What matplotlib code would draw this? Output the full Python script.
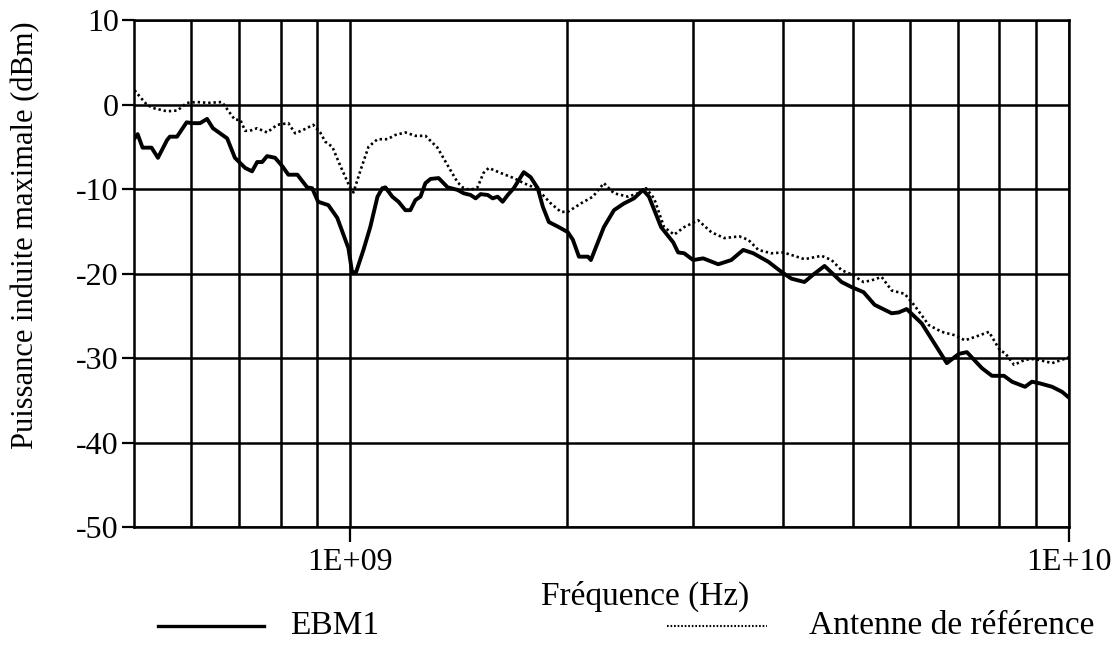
import numpy as np
import matplotlib
matplotlib.use("Agg")
import matplotlib.pyplot as plt
from matplotlib.lines import Line2D
from matplotlib.ticker import FixedLocator, FuncFormatter, NullFormatter

plt.rcParams['font.family'] = ['Liberation Serif', 'DejaVu Serif']
plt.rcParams['axes.unicode_minus'] = False

# EBM1 : frequence (GHz) / puissance (dBm)
f_ebm = [0.501, 0.506, 0.514, 0.529, 0.540, 0.556, 0.561, 0.574, 0.592, 0.602,
         0.618, 0.632, 0.644, 0.674, 0.691, 0.714, 0.730, 0.742, 0.754, 0.766,
         0.786, 0.806, 0.820, 0.844, 0.871, 0.885, 0.902, 0.932, 0.959, 0.994,
         1.006, 1.019, 1.043, 1.066, 1.091, 1.108, 1.119, 1.144, 1.167, 1.193,
         1.212, 1.232, 1.252, 1.272, 1.293, 1.327, 1.366, 1.410, 1.438, 1.470,
         1.494, 1.518, 1.553, 1.578, 1.603, 1.629, 1.656, 1.688, 1.743, 1.782,
         1.823, 1.853, 1.889, 1.950, 2.007, 2.040, 2.080, 2.141, 2.161, 2.253,
         2.327, 2.403, 2.481, 2.554, 2.603, 2.706, 2.813, 2.858, 2.914, 2.999,
         3.097, 3.250, 3.388, 3.521, 3.636, 3.815, 3.979, 4.108, 4.283, 4.409,
         4.568, 4.824, 4.982, 5.176, 5.363, 5.664, 5.793, 5.943, 6.237, 6.759,
         7.025, 7.207, 7.564, 7.810, 8.117, 8.328, 8.683, 8.878, 9.110, 9.470,
         9.777, 10.0]
p_ebm = [-4.0, -3.5, -5.1, -5.1, -6.3, -4.2, -3.8, -3.8, -2.1, -2.2,
         -2.2, -1.7, -2.8, -4.0, -6.3, -7.5, -7.9, -6.8, -6.8, -6.1,
         -6.3, -7.4, -8.3, -8.3, -9.8, -9.9, -11.5, -11.9, -13.4, -17.0,
         -19.9, -19.8, -17.2, -14.5, -10.9, -9.9, -9.8, -10.9, -11.5, -12.5,
         -12.5, -11.3, -10.9, -9.3, -8.8, -8.7, -9.8, -10.1, -10.5, -10.7,
         -11.1, -10.6, -10.7, -11.1, -10.9, -11.5, -10.7, -9.9, -8.0, -8.6,
         -9.9, -12.1, -13.9, -14.5, -15.1, -16.0, -18.0, -18.0, -18.4, -14.5,
         -12.5, -11.7, -11.1, -10.1, -10.9, -14.5, -16.3, -17.5, -17.6, -18.4,
         -18.2, -18.9, -18.4, -17.2, -17.6, -18.6, -19.8, -20.6, -21.0, -20.1,
         -19.1, -21.0, -21.6, -22.2, -23.7, -24.7, -24.6, -24.2, -25.9, -30.6,
         -29.5, -29.3, -31.2, -32.1, -32.1, -32.8, -33.4, -32.8, -33.0, -33.4,
         -34.0, -34.7]

# Antenne de reference
f_ref = [0.501, 0.510, 0.521, 0.531, 0.556, 0.575, 0.592, 0.612, 0.634, 0.663,
         0.676, 0.691, 0.703, 0.714, 0.725, 0.742, 0.766, 0.791, 0.820, 0.838,
         0.860, 0.888, 0.908, 0.923, 0.944, 0.968, 1.000, 1.010, 1.033, 1.060,
         1.091, 1.126, 1.155, 1.193, 1.232, 1.272, 1.322, 1.366, 1.410, 1.438,
         1.470, 1.503, 1.532, 1.558, 1.619, 1.688, 1.743, 1.800, 1.853, 1.901,
         1.963, 2.007, 2.093, 2.175, 2.253, 2.327, 2.434, 2.513, 2.579, 2.646,
         2.732, 2.822, 2.914, 3.048, 3.178, 3.313, 3.476, 3.578, 3.695, 3.852,
         4.004, 4.108, 4.283, 4.524, 4.672, 4.824, 4.982, 5.176, 5.311, 5.485,
         5.664, 5.905, 6.097, 6.379, 6.651, 6.935, 7.161, 7.395, 7.735, 7.886,
         8.014, 8.143, 8.382, 8.683, 8.964, 9.470, 9.777, 10.0]
p_ref = [1.7, 0.9, 0.0, -0.4, -0.8, -0.7, 0.2, 0.3, 0.2, 0.3,
         -0.7, -1.8, -1.8, -3.1, -3.1, -2.8, -3.3, -2.4, -2.2, -3.4,
         -3.0, -2.4, -3.3, -4.4, -5.0, -7.2, -9.9, -10.4, -7.8, -5.0,
         -4.1, -4.1, -3.6, -3.3, -3.7, -3.7, -5.1, -7.2, -9.2, -9.9,
         -10.1, -9.8, -8.1, -7.5, -8.1, -8.7, -9.3, -9.8, -10.7, -11.7,
         -12.7, -12.7, -11.7, -10.9, -9.3, -10.5, -10.9, -10.5, -9.9, -11.1,
         -14.5, -15.4, -14.5, -13.7, -15.1, -15.8, -15.6, -16.0, -17.2, -17.6,
         -17.5, -17.8, -18.3, -17.9, -18.4, -19.6, -20.1, -21.0, -20.8, -20.4,
         -22.0, -22.4, -23.8, -26.1, -26.9, -27.3, -27.9, -27.5, -26.9, -28.1,
         -29.1, -29.4, -30.8, -30.2, -30.1, -30.6, -30.2, -29.9]

labels = ['EBM1', 'Antenne de référence']

fig = plt.figure(figsize=(11.16, 6.58), dpi=100)
ax = fig.add_axes([0.120, 0.199, 0.838, 0.7705])

fs = 23

ax.plot(np.array(f_ebm) * 1e9, p_ebm, color='black', lw=2.8, solid_joinstyle='round')
ax.plot(np.array(f_ref) * 1e9, p_ref, color='black', lw=1.9, linestyle=(0, (0.9, 1.1)))

ax.set_xscale('log')
ax.set_xlim(5e8, 1e10)
ax.set_ylim(-50, 10)
ax.set_yticks(np.arange(-50, 11, 10))

ax.xaxis.set_major_locator(FixedLocator([1e9, 1e10]))
ax.xaxis.set_major_formatter(FuncFormatter(lambda v, p: '1E+%02d' % round(np.log10(v))))
minor = [m * 1e8 for m in range(6, 10)] + [m * 1e9 for m in range(2, 10)]
ax.xaxis.set_minor_locator(FixedLocator(minor))
ax.xaxis.set_minor_formatter(NullFormatter())

ax.grid(True, which='both', color='black', lw=1.8)
ax.set_axisbelow(True)
for s in ax.spines.values():
    s.set_linewidth(1.8)

ax.tick_params(axis='x', which='major', direction='out', length=11, width=1.6,
               labelsize=fs, pad=4)
ax.tick_params(axis='x', which='minor', length=0)
ax.tick_params(axis='y', direction='out', length=9, width=1.6, labelsize=fs, pad=2)

fig.text(0.578, 0.093, 'Fréquence (Hz)', fontsize=24, ha='center', va='center')
fig.text(0.023, 0.643, 'Puissance induite maximale (dBm)', fontsize=22,
         ha='center', va='center', rotation=90)

# legende sous le graphe
ly = 0.049
fig.add_artist(Line2D([0.142, 0.237], [ly, ly], transform=fig.transFigure,
                      color='black', lw=2.4))
fig.text(0.260, ly, labels[0], fontsize=24, ha='left', va='center')
fig.add_artist(Line2D([0.598, 0.687], [ly, ly], transform=fig.transFigure,
                      color='black', lw=1.5, linestyle=(0, (0.8, 0.9))))
fig.text(0.725, ly, labels[1], fontsize=24, ha='left', va='center')

fig.savefig('out.png', dpi=100)
